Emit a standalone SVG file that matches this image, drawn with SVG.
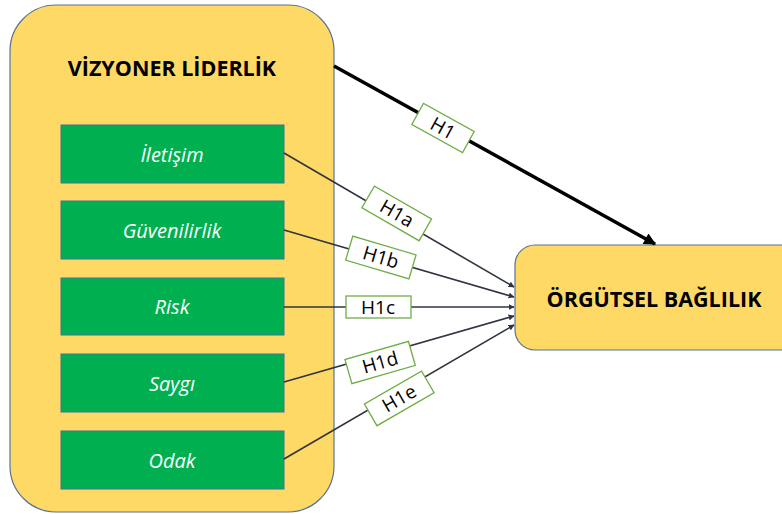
<svg xmlns="http://www.w3.org/2000/svg" width="782" height="514" viewBox="0 0 782 514">
<defs>
<style>
.outer{fill:#FFD966;stroke:#5A7393;stroke-width:1.2}
.item{fill:#00B050;stroke:#41719C;stroke-width:1}
.itxt{font-family:"Open Sans","Liberation Sans",sans-serif;font-style:italic;font-size:20px;fill:#fff;text-anchor:middle;dominant-baseline:central}
.title{font-family:"Open Sans","Liberation Sans",sans-serif;font-weight:bold;font-size:21.5px;fill:#000;text-anchor:middle;dominant-baseline:central}
.lbl{fill:#fff;stroke:#70AD47;stroke-width:1.3}
.ltxt{font-family:"Open Sans","Liberation Sans",sans-serif;font-size:19px;fill:#000;text-anchor:middle;dominant-baseline:central}
.thin{stroke:#2E3440;stroke-width:1.6;fill:none;marker-end:url(#ah)}
.thick{stroke:#000;stroke-width:3.5;fill:none;marker-end:url(#ahb)}
</style>
<marker id="ah" viewBox="0 0 10 10" refX="9" refY="5" markerWidth="6" markerHeight="6" orient="auto" markerUnits="userSpaceOnUse"><path d="M0,0 L10,5 L0,10 z" fill="#2E3440"/></marker>
<marker id="ahb" viewBox="0 0 10 10" refX="9" refY="5" markerWidth="14" markerHeight="12" orient="auto" markerUnits="userSpaceOnUse"><path d="M0,0 L10,5 L0,10 z" fill="#000"/></marker>
</defs>
<g id="vizyoner">
<rect class="outer" x="10" y="5" width="324" height="507" rx="46"/>
<text class="title" x="172" y="67">VİZYONER LİDERLİK</text>
</g>
<g id="iletisim"><rect class="item" x="61" y="125" width="223" height="58"/><text class="itxt" x="172" y="154">İletişim</text></g>
<g id="guvenilirlik"><rect class="item" x="61" y="201" width="223" height="58"/><text class="itxt" x="172" y="230">Güvenilirlik</text></g>
<g id="risk"><rect class="item" x="61" y="278" width="223" height="57"/><text class="itxt" x="172" y="306">Risk</text></g>
<g id="saygi"><rect class="item" x="61" y="354" width="223" height="58"/><text class="itxt" x="172" y="383">Saygı</text></g>
<g id="odak"><rect class="item" x="61" y="431" width="223" height="58"/><text class="itxt" x="172" y="460">Odak</text></g>
<g id="orgutsel">
<rect class="outer" x="515" y="245" width="290" height="105" rx="20"/>
<text class="title" x="654" y="298">ÖRGÜTSEL BAĞLILIK</text>
</g>
<g id="connectors">
<line class="thick" x1="334" y1="66" x2="655" y2="244"/>
<line class="thin" x1="284" y1="153" x2="514" y2="287"/>
<line class="thin" x1="284" y1="230" x2="514" y2="297"/>
<line class="thin" x1="284" y1="307" x2="514" y2="307"/>
<line class="thin" x1="284" y1="382" x2="514" y2="316"/>
<line class="thin" x1="284" y1="459" x2="514" y2="325"/>
<g transform="translate(443,128) rotate(29)"><rect class="lbl" x="-29" y="-12" width="58" height="24"/><text class="ltxt" x="0" y="0">H1</text></g>
<g transform="translate(397,213) rotate(30)"><rect class="lbl" x="-33" y="-12" width="66" height="25"/><text class="ltxt" x="0" y="0">H1a</text></g>
<g transform="translate(381,257) rotate(16.5)"><rect class="lbl" x="-33" y="-12" width="66" height="25"/><text class="ltxt" x="0" y="0">H1b</text></g>
<g transform="translate(378,307)"><rect class="lbl" x="-32" y="-11" width="65" height="22"/><text class="ltxt" x="0" y="0">H1c</text></g>
<g transform="translate(380,362) rotate(-16)"><rect class="lbl" x="-33" y="-12" width="66" height="25"/><text class="ltxt" x="0" y="0">H1d</text></g>
<g transform="translate(399,398) rotate(-30)"><rect class="lbl" x="-33" y="-12" width="66" height="25"/><text class="ltxt" x="0" y="0">H1e</text></g>
</g>
</svg>
